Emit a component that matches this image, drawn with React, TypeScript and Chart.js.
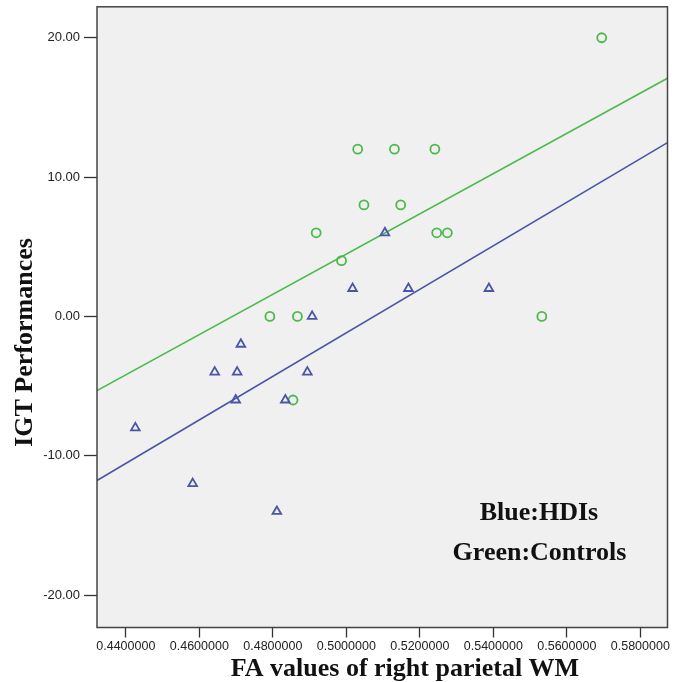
import React, { useEffect, useRef } from 'react';
import { Chart, registerables } from 'chart.js';

Chart.register(...registerables);

// ---- data ----
const hdiFA = [0.5105, 0.5017, 0.5169, 0.5388, 0.4907, 0.4713, 0.4642, 0.4703, 0.4894, 0.4699, 0.4834, 0.4426, 0.4582, 0.4811];
const hdiIGT = [6, 2, 2, 2, 0, -2, -4, -4, -4, -6, -6, -8, -12, -14];
const controlFA = [0.5695, 0.5031, 0.5131, 0.5241, 0.5048, 0.5148, 0.4918, 0.5246, 0.5275, 0.4987, 0.4792, 0.4867, 0.5532, 0.4855];
const controlIGT = [20, 12, 12, 12, 8, 8, 6, 6, 6, 4, 0, 0, 0, -6];
const fitFA = [0.43216, 0.5874];
const hdiFitIGT = [-11.78, 12.47];
const controlFitIGT = [-5.33, 17.09];
const xTickValues = [0.44, 0.46, 0.48, 0.5, 0.52, 0.54, 0.56, 0.58];
const yTickValues = [-20, -10, 0, 10, 20];
const legendLines = ['Blue:HDIs', 'Green:Controls'];
const xTitle = 'FA values of right parietal WM';
const yTitle = 'IGT Performances';

const X_MIN = 0.43216;
const X_MAX = 0.5874;
const Y_MIN = -22.33;
const Y_MAX = 22.22;

const BLUE = '#4a55a8';
const GREEN = '#4cb94c';
const SERIF = '"Liberation Serif", "Times New Roman", serif';
const SANS = '"Liberation Sans", Arial, sans-serif';

const zip = (xs: number[], ys: number[]) => xs.map((x, i) => ({ x, y: ys[i] }));

const decorPlugin = {
  id: 'decor',
  beforeDraw(chart: any) {
    const { ctx, chartArea: a } = chart;
    ctx.save();
    ctx.fillStyle = '#ffffff';
    ctx.fillRect(0, 0, chart.width, chart.height);
    ctx.fillStyle = '#f0f0f0';
    ctx.fillRect(a.left, a.top, a.right - a.left, a.bottom - a.top);
    ctx.restore();
  },
  afterDraw(chart: any) {
    const { ctx, chartArea: a } = chart;
    ctx.save();
    // plot frame
    ctx.strokeStyle = '#444444';
    ctx.lineWidth = 1.5;
    ctx.strokeRect(a.left, a.top, a.right - a.left, a.bottom - a.top);

    ctx.fillStyle = '#111111';
    ctx.font = `bold 26px ${SERIF}`;
    ctx.textBaseline = 'alphabetic';
    ctx.textAlign = 'center';

    // legend text inside plot
    ctx.fillText(legendLines[0], a.right - 128.5, 519.5);
    ctx.fillText(legendLines[1], a.right - 128, 560);

    // x axis title
    ctx.fillText(xTitle, 405, 676);

    // y axis title
    ctx.save();
    ctx.translate(32, 342.5);
    ctx.rotate(-Math.PI / 2);
    ctx.fillText(yTitle, 0, 0);
    ctx.restore();

    ctx.restore();
  },
};

export default function App() {
  const ref = useRef<HTMLCanvasElement | null>(null);

  useEffect(() => {
    if (!ref.current) return;
    const chart = new Chart(ref.current, {
      type: 'scatter',
      data: {
        datasets: [
          {
            label: 'HDIs',
            data: zip(hdiFA, hdiIGT),
            pointStyle: 'triangle',
            pointRadius: 5,
            pointBorderWidth: 1.8,
            borderColor: BLUE,
            backgroundColor: 'rgba(0,0,0,0)',
            pointBackgroundColor: 'rgba(0,0,0,0)',
            pointBorderColor: BLUE,
          },
          {
            label: 'Controls',
            data: zip(controlFA, controlIGT),
            pointStyle: 'circle',
            pointRadius: 4.5,
            pointBorderWidth: 1.8,
            borderColor: GREEN,
            backgroundColor: 'rgba(0,0,0,0)',
            pointBackgroundColor: 'rgba(0,0,0,0)',
            pointBorderColor: GREEN,
          },
          {
            label: 'HDIs fit',
            data: zip(fitFA, hdiFitIGT),
            showLine: true,
            pointRadius: 0,
            borderColor: BLUE,
            borderWidth: 1.6,
          },
          {
            label: 'Controls fit',
            data: zip(fitFA, controlFitIGT),
            showLine: true,
            pointRadius: 0,
            borderColor: GREEN,
            borderWidth: 1.6,
          },
        ],
      },
      options: {
        responsive: false,
        animation: false,
        devicePixelRatio: 1,
        layout: { padding: { top: 6, right: 11.5, bottom: 0, left: 0 } },
        plugins: {
          legend: { display: false },
          tooltip: { enabled: false },
          title: { display: false },
        },
        scales: {
          x: {
            type: 'linear',
            position: 'bottom',
            min: X_MIN,
            max: X_MAX,
            afterBuildTicks: (s: any) => {
              s.ticks = xTickValues.map((v) => ({ value: v }));
            },
            afterFit: (s: any) => {
              s.height = 54.5;
              s.paddingLeft = 0;
              s.paddingRight = 0;
            },
            ticks: {
              autoSkip: false,
              maxRotation: 0,
              minRotation: 0,
              padding: 2,
              color: '#222222',
              font: { family: SANS, size: 12.5 },
              callback: (v: any) => Number(v).toFixed(7),
            },
            grid: {
              display: true,
              drawOnChartArea: false,
              drawTicks: true,
              tickLength: 10,
              tickColor: '#333333',
              tickWidth: 1.3,
            },
            border: { display: false },
          },
          y: {
            type: 'linear',
            position: 'left',
            min: Y_MIN,
            max: Y_MAX,
            afterBuildTicks: (s: any) => {
              s.ticks = yTickValues.map((v) => ({ value: v }));
            },
            afterFit: (s: any) => {
              s.width = 97;
              s.paddingTop = 0;
              s.paddingBottom = 0;
            },
            ticks: {
              autoSkip: false,
              padding: 4,
              color: '#222222',
              font: { family: SANS, size: 13 },
              callback: (v: any) => Number(v).toFixed(2),
            },
            grid: {
              display: true,
              drawOnChartArea: false,
              drawTicks: true,
              tickLength: 13,
              tickColor: '#333333',
              tickWidth: 1.3,
            },
            border: { display: false },
          },
        },
      },
      plugins: [decorPlugin],
    } as any);
    return () => chart.destroy();
  }, []);

  return (
    <div style={{ position: 'fixed', left: 0, top: 0, width: 679, height: 682, background: '#fff' }}>
      <canvas ref={ref} width={679} height={682} style={{ display: 'block', width: 679, height: 682 }} />
    </div>
  );
}
